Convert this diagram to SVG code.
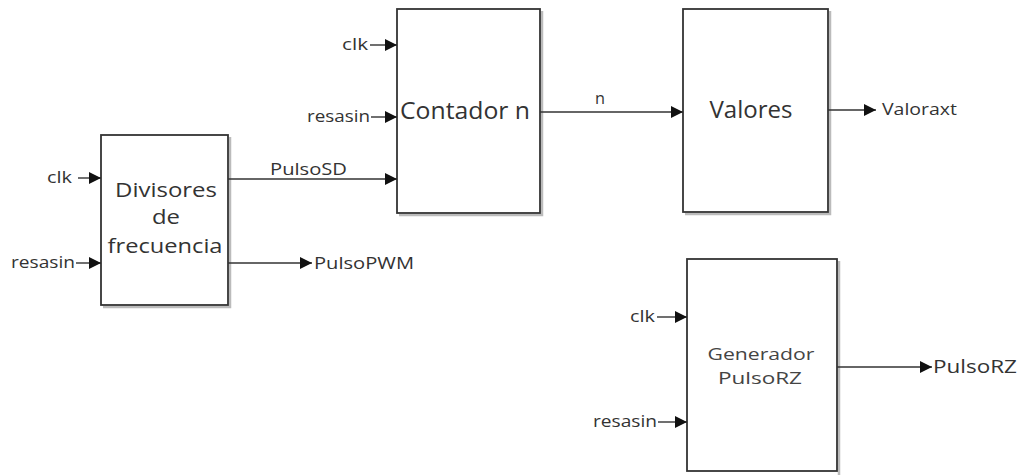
<svg xmlns="http://www.w3.org/2000/svg" width="1021" height="475" viewBox="0 0 1021 475">
<defs>
<marker id="arr" markerWidth="14" markerHeight="14" refX="12" refY="6" orient="auto" markerUnits="userSpaceOnUse">
<path d="M0,0 L12,6 L0,12 Z" fill="#111"/>
</marker>
</defs>
<style>
.box{fill:#fff;stroke:#333;stroke-width:1.8}
.sh{fill:none;stroke:#bbb;stroke-width:2.5}
.wire{fill:none;stroke:#333;stroke-width:1.4;marker-end:url(#arr)}
.lbl{font-family:"Open Sans","Noto Sans",sans-serif;font-size:17px;fill:#333}
.big{font-family:"Open Sans","Noto Sans",sans-serif;font-size:23px;fill:#333;text-anchor:middle}
.dv{font-family:"Open Sans","Noto Sans",sans-serif;font-size:20px;fill:#333;text-anchor:middle}
.mid{font-family:"Open Sans","Noto Sans",sans-serif;font-size:17px;fill:#444;text-anchor:middle}
</style>
<rect width="1021" height="475" fill="#fff"/>
<g id="divisores">
<path class="sh" d="M230,137 V307 H103"/>
<rect class="box" x="101" y="135" width="127" height="170"/>
<text class="dv" x="166" y="197" textLength="102" lengthAdjust="spacingAndGlyphs">Divisores</text>
<text class="dv" x="166" y="224" textLength="28" lengthAdjust="spacingAndGlyphs">de</text>
<text class="dv" x="165" y="253" textLength="115" lengthAdjust="spacingAndGlyphs">frecuencia</text>
</g>
<g id="contador">
<path class="sh" d="M542,11 V215 H399"/>
<rect class="box" x="397" y="9" width="143" height="204"/>
<text class="big" x="465" y="119" textLength="130" lengthAdjust="spacingAndGlyphs">Contador n</text>
</g>
<g id="valores">
<path class="sh" d="M830,11 V214 H685"/>
<rect class="box" x="683" y="9" width="145" height="203"/>
<text class="big" x="751" y="118" textLength="83" lengthAdjust="spacingAndGlyphs">Valores</text>
</g>
<g id="generador">
<path class="sh" d="M839,261 V475"/>
<rect class="box" x="687" y="259" width="150" height="212"/>
<text class="mid" x="761" y="360" textLength="107" lengthAdjust="spacingAndGlyphs">Generador</text>
<text class="mid" x="760" y="384" textLength="84" lengthAdjust="spacingAndGlyphs">PulsoRZ</text>
</g>
<g id="connectors">
<line class="wire" x1="78" y1="178" x2="101" y2="178"/>
<line class="wire" x1="76" y1="263" x2="101" y2="263"/>
<line class="wire" x1="228" y1="179" x2="397" y2="179"/>
<line class="wire" x1="228" y1="263" x2="312" y2="263"/>
<line class="wire" x1="370" y1="45" x2="397" y2="45"/>
<line class="wire" x1="371" y1="117" x2="397" y2="117"/>
<line class="wire" x1="540" y1="112" x2="683" y2="112"/>
<line class="wire" x1="828" y1="110" x2="876" y2="110"/>
<line class="wire" x1="657" y1="317" x2="687" y2="317"/>
<line class="wire" x1="658" y1="422" x2="687" y2="422"/>
<line class="wire" x1="837" y1="367" x2="932" y2="367"/>
</g>
<g id="labels">
<text class="lbl" x="47" y="183" textLength="25" lengthAdjust="spacingAndGlyphs">clk</text>
<text class="lbl" x="11" y="268" textLength="64" lengthAdjust="spacingAndGlyphs">resasin</text>
<text class="lbl" x="270" y="175" textLength="77" lengthAdjust="spacingAndGlyphs">PulsoSD</text>
<text class="lbl" x="314" y="269" textLength="100" lengthAdjust="spacingAndGlyphs">PulsoPWM</text>
<text class="lbl" x="342" y="50" textLength="26" lengthAdjust="spacingAndGlyphs">clk</text>
<text class="lbl" x="307" y="122" textLength="63" lengthAdjust="spacingAndGlyphs">resasin</text>
<text class="lbl" x="595" y="104" textLength="10" lengthAdjust="spacingAndGlyphs">n</text>
<text class="lbl" x="882" y="115" textLength="75" lengthAdjust="spacingAndGlyphs">Valoraxt</text>
<text class="lbl" x="630" y="322" textLength="25" lengthAdjust="spacingAndGlyphs">clk</text>
<text class="lbl" x="593" y="427" textLength="64" lengthAdjust="spacingAndGlyphs">resasin</text>
<text class="lbl" x="933" y="373" style="font-size:19px" textLength="84" lengthAdjust="spacingAndGlyphs">PulsoRZ</text>
</g>
</svg>
